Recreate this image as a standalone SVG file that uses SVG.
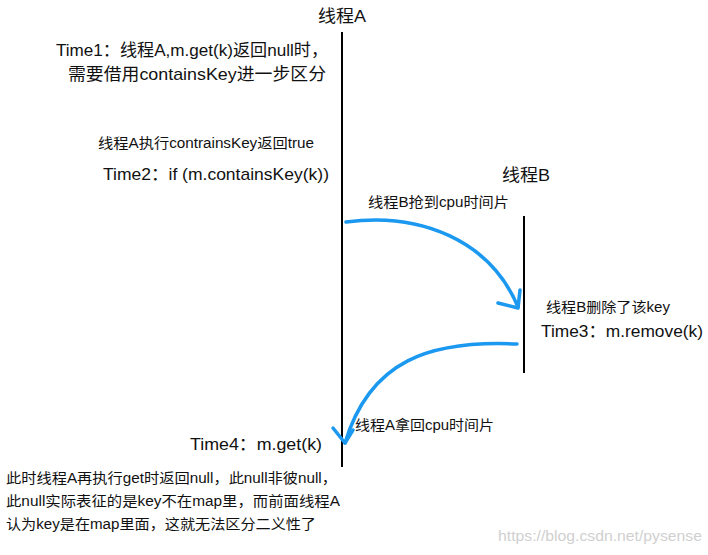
<svg xmlns="http://www.w3.org/2000/svg" width="708" height="555" viewBox="0 0 708 555">
<style>
text{font-family:"Liberation Sans","Noto Sans CJK SC",sans-serif;fill:#111}
.t17{font-size:17px}
.t16{font-size:17px}
.t13{font-size:14px}
.life{stroke:#000;stroke-width:2;fill:none}
.arrow{stroke:#1b98ef;stroke-width:3.5;fill:none;stroke-linecap:round;stroke-linejoin:round}
.wm{font-size:15px;fill:#d0d0d0}
</style>
<rect width="708" height="555" fill="#fff"/>
<g id="threadA">
<text class="t17" x="318" y="22" textLength="48" lengthAdjust="spacingAndGlyphs">线程A</text>
<line class="life" x1="342" y1="32" x2="342" y2="467"/>
</g>
<g id="threadB">
<text class="t17" x="502" y="181" textLength="48" lengthAdjust="spacingAndGlyphs">线程B</text>
<line class="life" x1="524" y1="216" x2="524" y2="373"/>
</g>
<g id="time1">
<text class="t16" x="56" y="56" textLength="272" lengthAdjust="spacingAndGlyphs">Time1：线程A,m.get(k)返回null时，</text>
<text class="t16" x="68" y="80" textLength="258" lengthAdjust="spacingAndGlyphs">需要借用containsKey进一步区分</text>
</g>
<g id="time2">
<text class="t13" x="98" y="148" textLength="216" lengthAdjust="spacingAndGlyphs">线程A执行contrainsKey返回true</text>
<text class="t16" x="103" y="180" textLength="226" lengthAdjust="spacingAndGlyphs">Time2：if (m.containsKey(k))</text>
</g>
<g id="time3">
<text class="t13" x="546" y="312" textLength="124" lengthAdjust="spacingAndGlyphs">线程B删除了该key</text>
<text class="t16" x="541" y="337" textLength="162" lengthAdjust="spacingAndGlyphs">Time3：m.remove(k)</text>
</g>
<g id="time4">
<text class="t16" x="190" y="450" textLength="132" lengthAdjust="spacingAndGlyphs">Time4：m.get(k)</text>
</g>
<g id="note">
<text class="t13" x="6" y="483" textLength="331" lengthAdjust="spacingAndGlyphs">此时线程A再执行get时返回null，此null非彼null，</text>
<text class="t13" x="6" y="506" textLength="334" lengthAdjust="spacingAndGlyphs">此null实际表征的是key不在map里，而前面线程A</text>
<text class="t13" x="6" y="529" textLength="310" lengthAdjust="spacingAndGlyphs">认为key是在map里面，这就无法区分二义性了</text>
</g>
<g id="connectors">
<path class="arrow" d="M346,222 C420,212 490,240 518,307"/>
<path class="arrow" d="M498,303 L518,308 L520,290"/>
<text class="t13" x="368" y="207" textLength="141" lengthAdjust="spacingAndGlyphs">线程B抢到cpu时间片</text>
<path class="arrow" d="M517,344 C430,340 370,360 345,443"/>
<path class="arrow" d="M333,428 L345,443 L353,430"/>
<text class="t13" x="355" y="430" textLength="139" lengthAdjust="spacingAndGlyphs">线程A拿回cpu时间片</text>
</g>
<text class="wm" x="498" y="541" textLength="204" lengthAdjust="spacingAndGlyphs">https://blog.csdn.net/pysense</text>
</svg>
